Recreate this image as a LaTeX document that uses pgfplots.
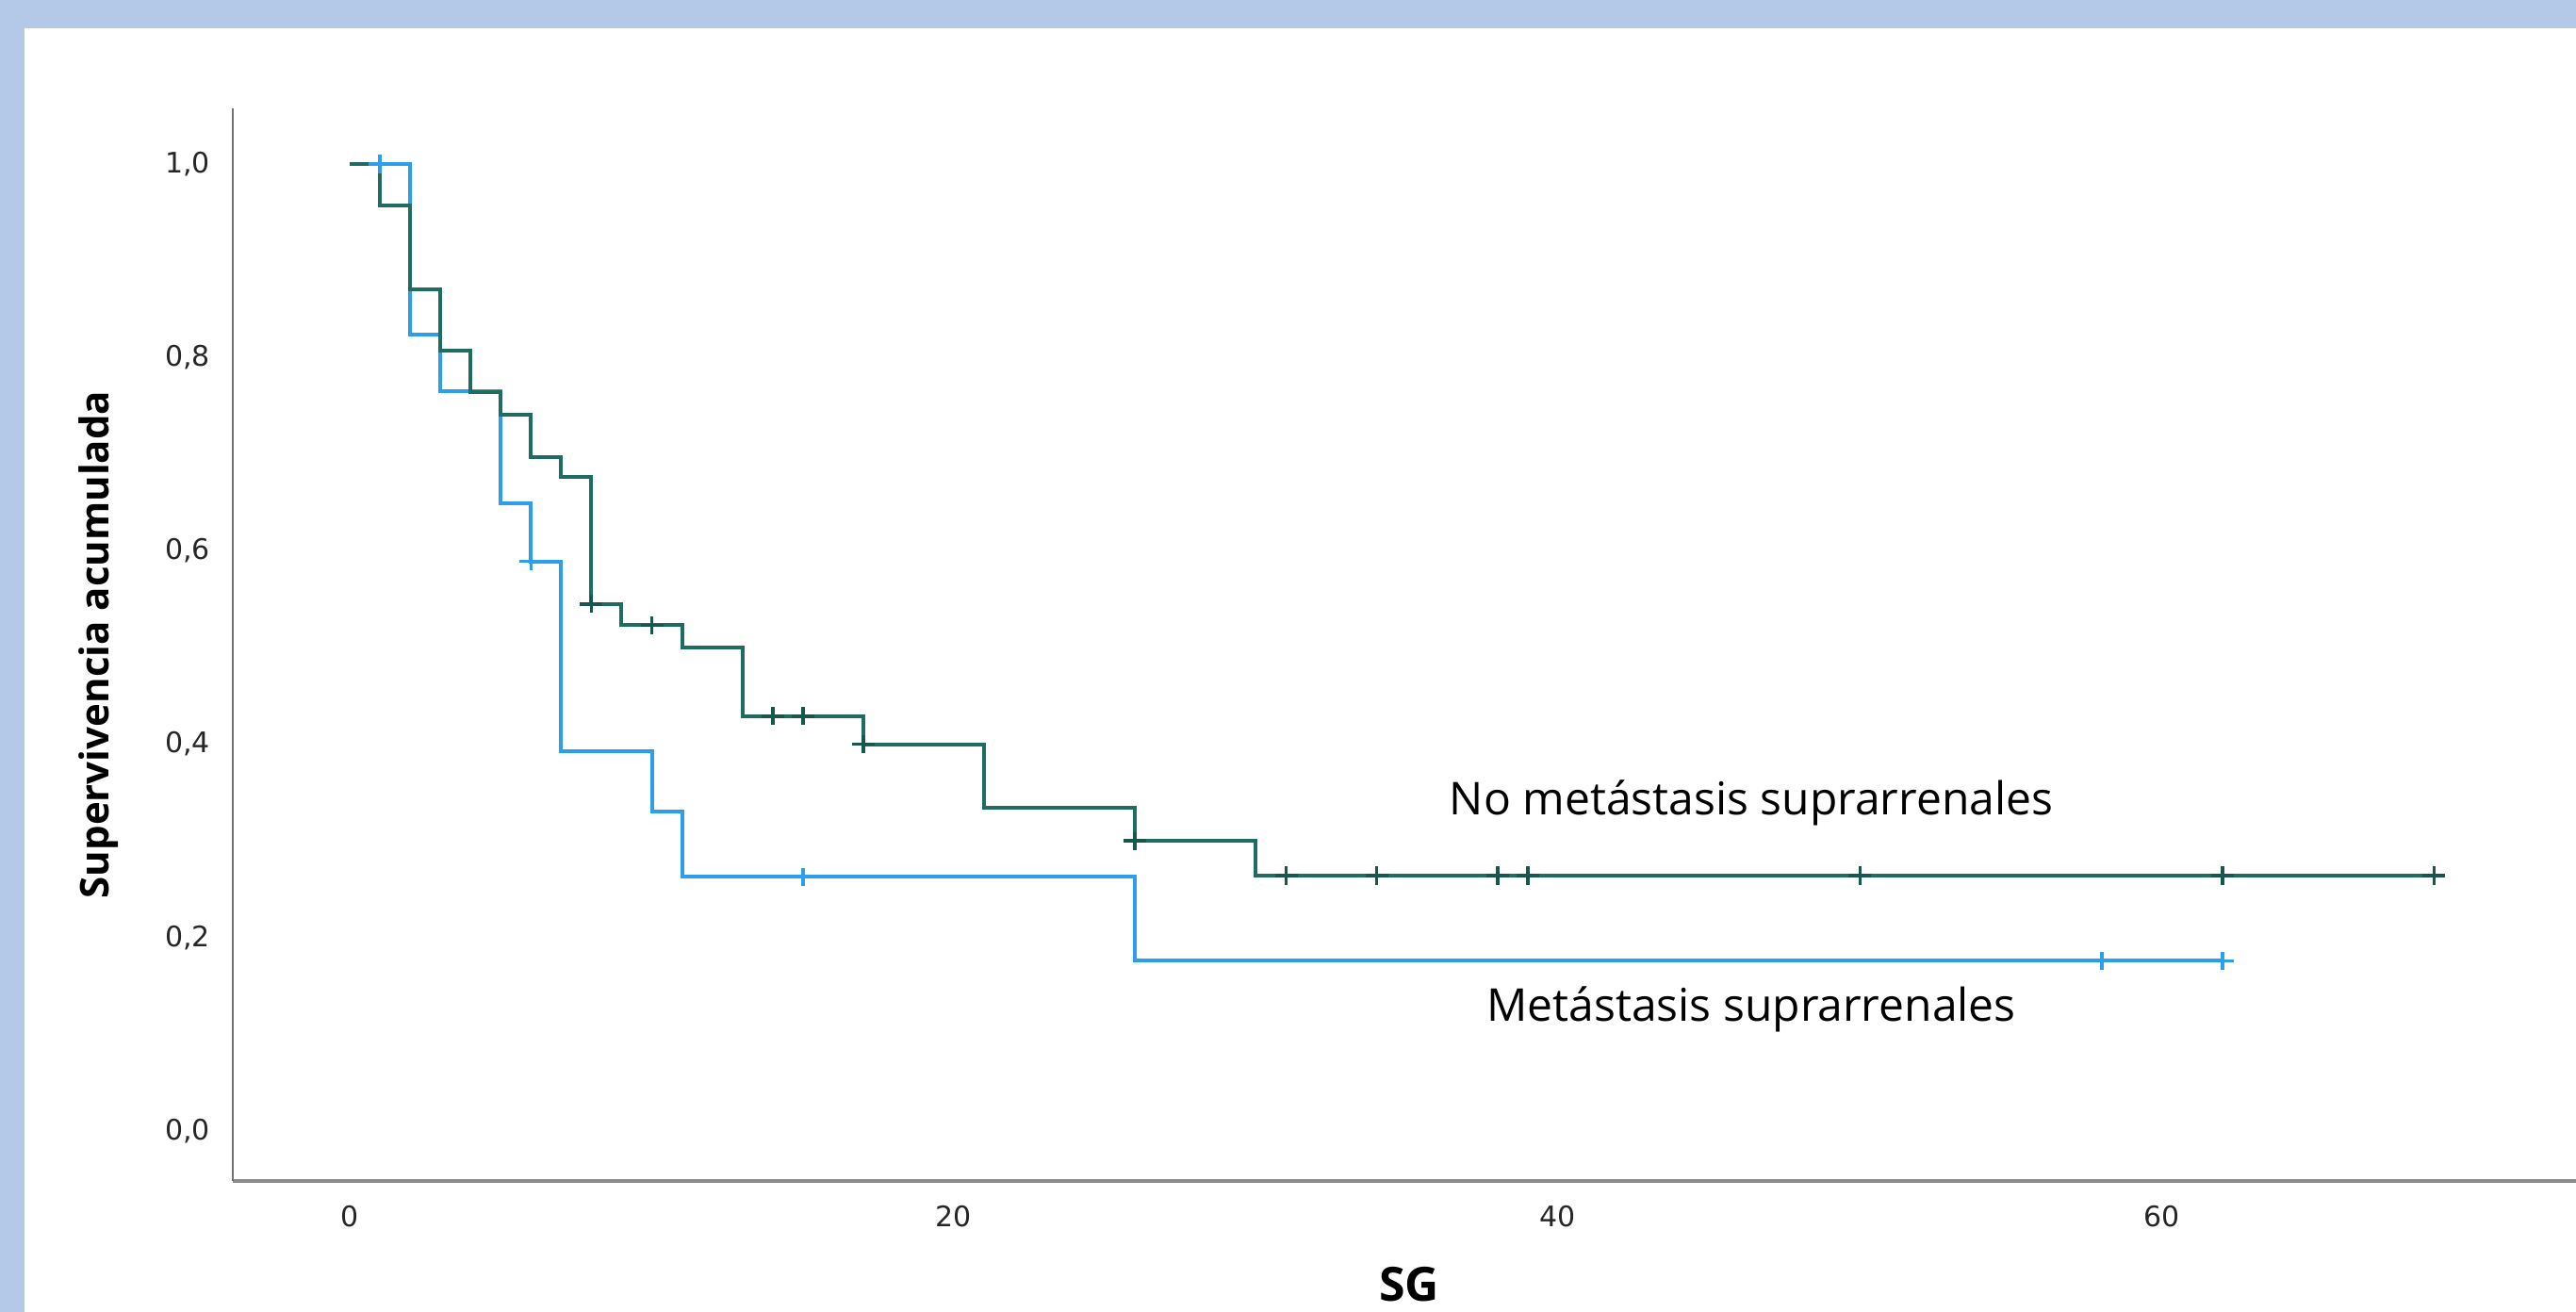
\documentclass[border=0pt]{standalone}
\usepackage{fontspec}
\setmainfont{Open Sans}
\newfontfamily\tickfont{DejaVu Sans}
\usepackage{pgfplots}
\pgfplotsset{compat=1.18}
\definecolor{frameblue}{RGB}{180,200,232}
\definecolor{kmgreen}{RGB}{32,108,98}
\definecolor{kmblue}{RGB}{45,158,236}
\begin{document}
\begin{tikzpicture}
\useasboundingbox (-61.75pt,-34.75pt) rectangle (621.5pt,313.25pt);
\fill[frameblue] (-61.75pt,-34.75pt) rectangle (621.5pt,313.25pt);
\fill[white] (-55.25pt,-34.75pt) rectangle (621.5pt,305.75pt);
\begin{axis}[
  at={(0,0)}, anchor=south west,
  scale only axis,
  width=621.5pt, height=284.5pt,
  xmin=-3.87, xmax=73.7,
  ymin=-0.0517, ymax=1.0575,
  axis x line*=bottom, axis y line*=left,
  x axis line style={line width=1.1pt, color=black!45},
  y axis line style={line width=0.7pt, color=black!55},
  xtick={0,20,40,60},
  ytick={0,0.2,0.4,0.6,0.8,1.0},
  yticklabels={0{,}0,0{,}2,0{,}4,0{,}6,0{,}8,1{,}0},
  major tick length=0pt,
  /pgf/number format/assume math mode=true,
  ticklabel style={font=\tickfont\fontsize{7.5}{9}\selectfont, text=black!85},
  yticklabel style={xshift=-2.5pt},
  xticklabel style={yshift=-3pt},
  xlabel={SG},
  ylabel={Supervivencia acumulada},
  xlabel style={font=\bfseries\fontsize{12.5}{14}\selectfont, at={(axis description cs:0.502,-0.0967)}, anchor=center},
  ylabel style={font=\bfseries\fontsize{10.5}{12}\selectfont, at={(axis description cs:-0.0571,0.5)}, anchor=center, rotate=0},
  clip=false,
]
% Metastasis suprarrenales (blue)
\addplot[const plot, kmblue, line width=1pt] coordinates {
(0,1.0) (2,0.8235) (3,0.765) (5,0.649) (6,0.589) (7,0.393) (10,0.330) (11,0.263) (26,0.176) (62,0.176)};
\addplot[only marks, mark=+, mark size=3pt, kmblue, mark options={yscale=0.8, line width=0.9pt}] coordinates {
(1,1.0) (6,0.589) (15,0.263) (58,0.176) (62,0.176)};
% No metastasis suprarrenales (green)
\addplot[const plot, kmgreen, line width=1pt] coordinates {
(0,1.0) (1,0.957) (2,0.870) (3,0.807) (4,0.764) (5,0.741) (6,0.697) (7,0.676) (8,0.545) (9,0.523) (11,0.4995) (13,0.429) (17,0.400) (21,0.334) (26,0.300) (30,0.264) (69,0.264)};
\addplot[only marks, mark=+, mark size=3pt, kmgreen!80!black, mark options={yscale=0.8, line width=0.9pt}] coordinates {
(8,0.545) (10,0.523) (14,0.429) (15,0.429) (17,0.400) (26,0.300) (31,0.264) (34,0.264) (38,0.264) (39,0.264) (50,0.264) (62,0.264) (69,0.264)};
\node[font=\fontsize{12}{14}\selectfont] at (axis cs:46.4,0.339) {No metástasis suprarrenales};
\node[font=\fontsize{12}{14}\selectfont] at (axis cs:46.4,0.126) {Metástasis suprarrenales};
\end{axis}
\end{tikzpicture}
\end{document}
